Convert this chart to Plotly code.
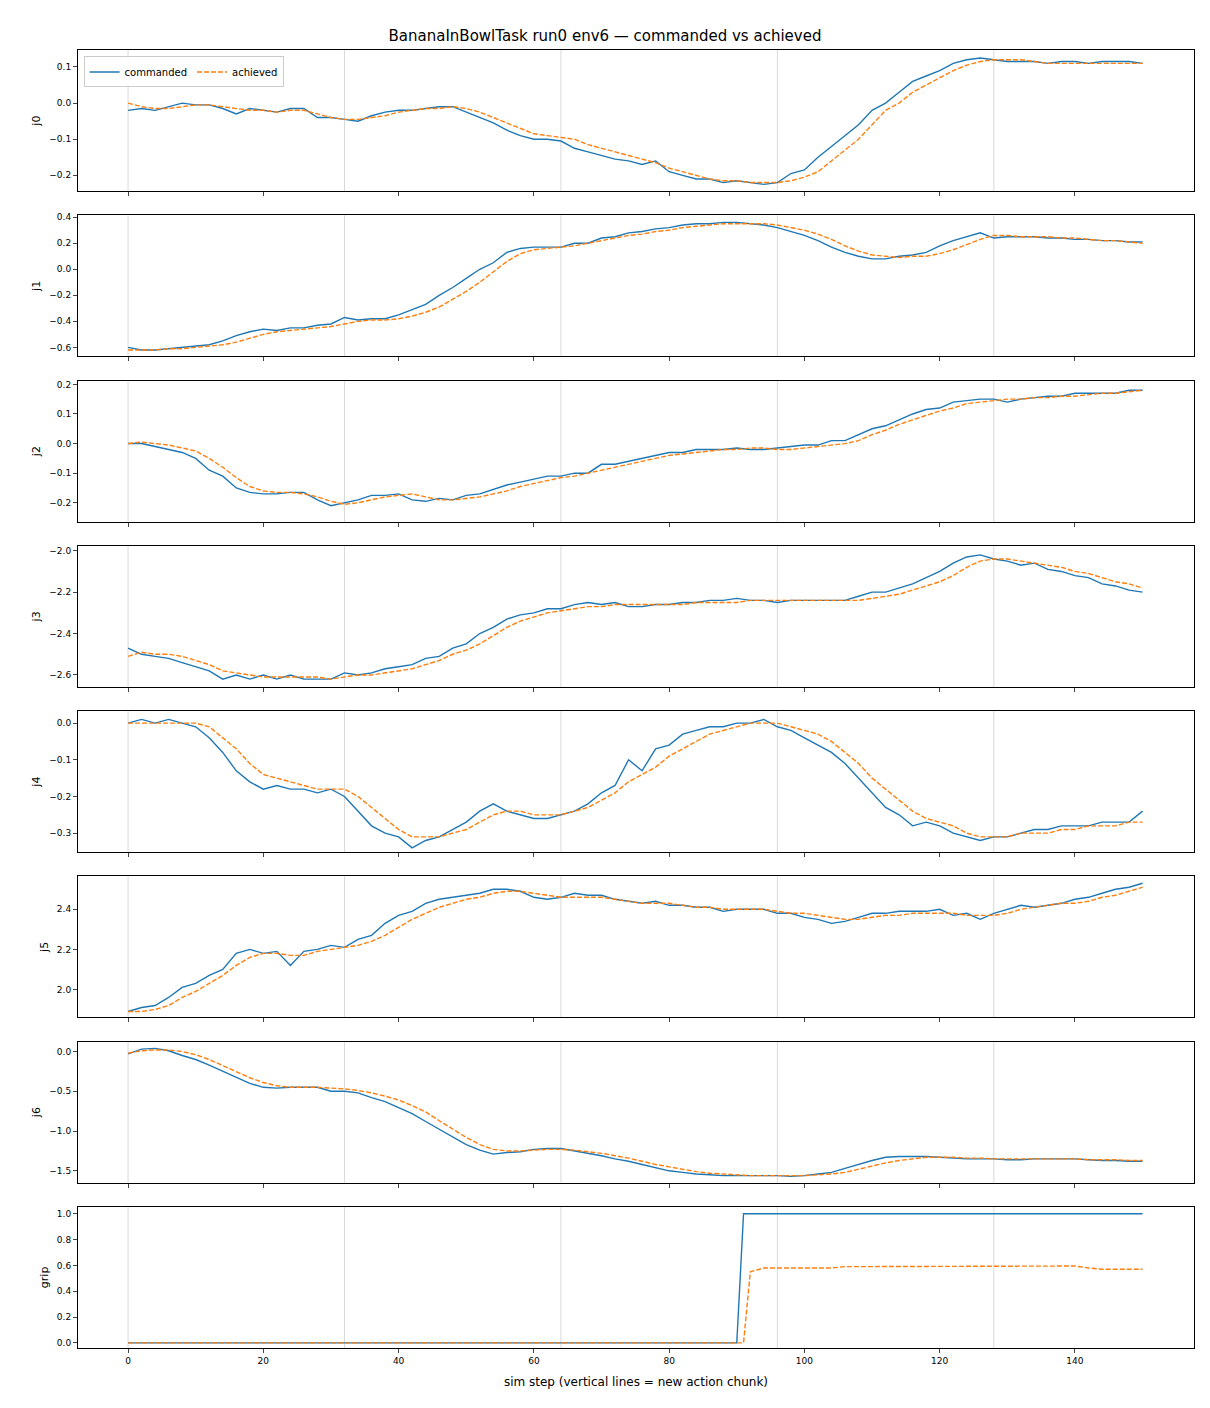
import plotly.graph_objects as go
from plotly.subplots import make_subplots

steps = list(range(0, 151, 2))

j0_cmd = [-0.02,-0.015,-0.02,-0.01,0.0,-0.005,-0.005,-0.015,-0.03,-0.015,-0.02,-0.025,-0.015,-0.015,-0.04,-0.04,-0.045,-0.05,-0.035,-0.025,-0.02,-0.02,-0.015,-0.01,-0.01,-0.025,-0.04,-0.055,-0.075,-0.09,-0.1,-0.1,-0.105,-0.125,-0.135,-0.145,-0.155,-0.16,-0.17,-0.16,-0.19,-0.2,-0.21,-0.21,-0.22,-0.215,-0.22,-0.225,-0.22,-0.195,-0.185,-0.15,-0.12,-0.09,-0.06,-0.02,0.0,0.03,0.06,0.075,0.09,0.11,0.12,0.125,0.12,0.115,0.115,0.115,0.11,0.115,0.115,0.11,0.115,0.115,0.115,0.11]
j0_ach = [0.0,-0.01,-0.015,-0.015,-0.01,-0.005,-0.005,-0.01,-0.015,-0.02,-0.02,-0.025,-0.02,-0.02,-0.03,-0.04,-0.045,-0.045,-0.04,-0.035,-0.025,-0.02,-0.015,-0.015,-0.01,-0.015,-0.025,-0.04,-0.055,-0.07,-0.085,-0.09,-0.095,-0.1,-0.115,-0.125,-0.135,-0.145,-0.155,-0.165,-0.18,-0.19,-0.2,-0.21,-0.215,-0.215,-0.22,-0.22,-0.22,-0.215,-0.205,-0.19,-0.16,-0.13,-0.1,-0.06,-0.02,0.0,0.03,0.05,0.07,0.09,0.105,0.115,0.12,0.12,0.12,0.115,0.11,0.11,0.11,0.11,0.11,0.11,0.11,0.11]
j1_cmd = [-0.6,-0.62,-0.62,-0.61,-0.6,-0.59,-0.58,-0.55,-0.51,-0.48,-0.46,-0.47,-0.45,-0.45,-0.43,-0.42,-0.37,-0.39,-0.38,-0.38,-0.35,-0.31,-0.27,-0.2,-0.14,-0.07,0.0,0.05,0.13,0.16,0.17,0.17,0.17,0.2,0.2,0.24,0.25,0.28,0.29,0.31,0.32,0.34,0.35,0.35,0.36,0.36,0.35,0.34,0.32,0.29,0.26,0.22,0.17,0.13,0.1,0.08,0.08,0.1,0.11,0.13,0.18,0.22,0.25,0.28,0.24,0.25,0.25,0.25,0.24,0.24,0.23,0.23,0.22,0.22,0.21,0.21]
j1_ach = [-0.62,-0.62,-0.62,-0.61,-0.61,-0.6,-0.59,-0.58,-0.56,-0.53,-0.5,-0.48,-0.47,-0.46,-0.45,-0.44,-0.42,-0.4,-0.39,-0.39,-0.38,-0.36,-0.33,-0.29,-0.23,-0.17,-0.1,-0.02,0.06,0.12,0.15,0.16,0.17,0.18,0.2,0.22,0.24,0.26,0.27,0.29,0.3,0.32,0.33,0.34,0.35,0.35,0.35,0.35,0.34,0.32,0.3,0.27,0.23,0.18,0.14,0.11,0.1,0.09,0.1,0.1,0.12,0.15,0.19,0.23,0.26,0.26,0.25,0.25,0.25,0.24,0.24,0.23,0.22,0.22,0.21,0.2]
j2_cmd = [0.0,0.0,-0.01,-0.02,-0.03,-0.05,-0.09,-0.11,-0.15,-0.165,-0.17,-0.17,-0.165,-0.165,-0.19,-0.21,-0.2,-0.19,-0.175,-0.175,-0.17,-0.19,-0.195,-0.185,-0.19,-0.175,-0.17,-0.155,-0.14,-0.13,-0.12,-0.11,-0.11,-0.1,-0.1,-0.07,-0.07,-0.06,-0.05,-0.04,-0.03,-0.03,-0.02,-0.02,-0.02,-0.015,-0.02,-0.02,-0.015,-0.01,-0.005,-0.005,0.01,0.01,0.03,0.05,0.06,0.08,0.1,0.115,0.12,0.14,0.145,0.15,0.15,0.14,0.15,0.155,0.16,0.16,0.17,0.17,0.17,0.17,0.18,0.18]
j2_ach = [0.0,0.005,0.0,-0.005,-0.015,-0.025,-0.05,-0.08,-0.115,-0.145,-0.16,-0.165,-0.165,-0.17,-0.18,-0.195,-0.205,-0.2,-0.19,-0.18,-0.175,-0.17,-0.18,-0.19,-0.19,-0.185,-0.18,-0.17,-0.16,-0.145,-0.135,-0.125,-0.115,-0.11,-0.1,-0.09,-0.08,-0.07,-0.06,-0.05,-0.04,-0.035,-0.03,-0.025,-0.02,-0.02,-0.015,-0.015,-0.02,-0.02,-0.015,-0.01,-0.005,0.0,0.01,0.03,0.045,0.065,0.08,0.095,0.11,0.12,0.135,0.14,0.145,0.15,0.15,0.155,0.155,0.16,0.16,0.165,0.17,0.17,0.175,0.18]
j3_cmd = [-2.47,-2.5,-2.51,-2.52,-2.54,-2.56,-2.58,-2.62,-2.6,-2.62,-2.6,-2.62,-2.6,-2.62,-2.62,-2.62,-2.59,-2.6,-2.59,-2.57,-2.56,-2.55,-2.52,-2.51,-2.47,-2.45,-2.4,-2.37,-2.33,-2.31,-2.3,-2.28,-2.28,-2.26,-2.25,-2.26,-2.25,-2.27,-2.27,-2.26,-2.26,-2.25,-2.25,-2.24,-2.24,-2.23,-2.24,-2.24,-2.25,-2.24,-2.24,-2.24,-2.24,-2.24,-2.22,-2.2,-2.2,-2.18,-2.16,-2.13,-2.1,-2.06,-2.03,-2.02,-2.04,-2.05,-2.07,-2.06,-2.09,-2.1,-2.12,-2.13,-2.16,-2.17,-2.19,-2.2]
j3_ach = [-2.51,-2.49,-2.5,-2.5,-2.51,-2.53,-2.55,-2.58,-2.59,-2.6,-2.61,-2.61,-2.61,-2.61,-2.61,-2.62,-2.61,-2.6,-2.6,-2.59,-2.58,-2.57,-2.55,-2.53,-2.5,-2.48,-2.45,-2.41,-2.37,-2.34,-2.32,-2.3,-2.29,-2.28,-2.27,-2.27,-2.26,-2.26,-2.26,-2.26,-2.26,-2.26,-2.25,-2.25,-2.25,-2.25,-2.24,-2.24,-2.24,-2.24,-2.24,-2.24,-2.24,-2.24,-2.24,-2.23,-2.22,-2.21,-2.19,-2.17,-2.15,-2.12,-2.08,-2.05,-2.04,-2.04,-2.05,-2.06,-2.07,-2.08,-2.1,-2.11,-2.13,-2.15,-2.16,-2.18]
j4_cmd = [0.0,0.01,0.0,0.01,0.0,-0.01,-0.04,-0.08,-0.13,-0.16,-0.18,-0.17,-0.18,-0.18,-0.19,-0.18,-0.2,-0.24,-0.28,-0.3,-0.31,-0.34,-0.32,-0.31,-0.29,-0.27,-0.24,-0.22,-0.24,-0.25,-0.26,-0.26,-0.25,-0.24,-0.22,-0.19,-0.17,-0.1,-0.13,-0.07,-0.06,-0.03,-0.02,-0.01,-0.01,0.0,0.0,0.01,-0.01,-0.02,-0.04,-0.06,-0.08,-0.11,-0.15,-0.19,-0.23,-0.25,-0.28,-0.27,-0.28,-0.3,-0.31,-0.32,-0.31,-0.31,-0.3,-0.29,-0.29,-0.28,-0.28,-0.28,-0.27,-0.27,-0.27,-0.24]
j4_ach = [0.0,0.0,0.0,0.0,0.0,0.0,-0.01,-0.04,-0.07,-0.11,-0.14,-0.15,-0.16,-0.17,-0.18,-0.18,-0.18,-0.2,-0.23,-0.26,-0.29,-0.31,-0.31,-0.31,-0.3,-0.29,-0.27,-0.25,-0.24,-0.24,-0.25,-0.25,-0.25,-0.24,-0.23,-0.21,-0.19,-0.16,-0.14,-0.12,-0.09,-0.07,-0.05,-0.03,-0.02,-0.01,0.0,0.0,0.0,-0.01,-0.02,-0.03,-0.05,-0.08,-0.11,-0.15,-0.18,-0.21,-0.24,-0.26,-0.27,-0.28,-0.3,-0.31,-0.31,-0.31,-0.3,-0.3,-0.3,-0.29,-0.29,-0.28,-0.28,-0.28,-0.27,-0.27]
j5_cmd = [1.89,1.91,1.92,1.96,2.01,2.03,2.07,2.1,2.18,2.2,2.18,2.19,2.12,2.19,2.2,2.22,2.21,2.25,2.27,2.33,2.37,2.39,2.43,2.45,2.46,2.47,2.48,2.5,2.5,2.49,2.46,2.45,2.46,2.48,2.47,2.47,2.45,2.44,2.43,2.44,2.42,2.42,2.41,2.41,2.39,2.4,2.4,2.4,2.38,2.38,2.36,2.35,2.33,2.34,2.36,2.38,2.38,2.39,2.39,2.39,2.4,2.37,2.38,2.35,2.38,2.4,2.42,2.41,2.42,2.43,2.45,2.46,2.48,2.5,2.51,2.53]
j5_ach = [1.89,1.89,1.9,1.92,1.96,1.99,2.03,2.07,2.12,2.16,2.18,2.18,2.17,2.17,2.19,2.2,2.21,2.22,2.24,2.27,2.31,2.35,2.38,2.41,2.43,2.45,2.46,2.48,2.49,2.49,2.48,2.47,2.46,2.46,2.46,2.46,2.45,2.44,2.43,2.43,2.43,2.42,2.41,2.41,2.4,2.4,2.4,2.4,2.39,2.38,2.38,2.37,2.36,2.35,2.35,2.36,2.37,2.37,2.38,2.38,2.38,2.38,2.37,2.37,2.37,2.38,2.4,2.41,2.42,2.43,2.43,2.44,2.46,2.47,2.49,2.51]
j6_cmd = [-0.03,0.03,0.04,0.01,-0.05,-0.1,-0.17,-0.25,-0.33,-0.4,-0.45,-0.46,-0.45,-0.45,-0.45,-0.5,-0.5,-0.52,-0.58,-0.63,-0.7,-0.78,-0.88,-0.98,-1.08,-1.17,-1.24,-1.29,-1.27,-1.26,-1.23,-1.22,-1.22,-1.25,-1.28,-1.31,-1.35,-1.38,-1.42,-1.46,-1.5,-1.52,-1.54,-1.55,-1.56,-1.56,-1.56,-1.56,-1.56,-1.57,-1.56,-1.54,-1.52,-1.47,-1.42,-1.37,-1.33,-1.32,-1.32,-1.32,-1.33,-1.34,-1.35,-1.35,-1.35,-1.36,-1.36,-1.35,-1.35,-1.35,-1.35,-1.36,-1.37,-1.37,-1.38,-1.38]
j6_ach = [-0.02,0.01,0.02,0.02,0.0,-0.04,-0.1,-0.18,-0.26,-0.33,-0.39,-0.43,-0.45,-0.45,-0.45,-0.46,-0.47,-0.49,-0.52,-0.56,-0.61,-0.68,-0.76,-0.87,-0.98,-1.08,-1.17,-1.23,-1.25,-1.25,-1.24,-1.23,-1.23,-1.24,-1.26,-1.28,-1.31,-1.34,-1.38,-1.42,-1.45,-1.48,-1.51,-1.53,-1.54,-1.55,-1.56,-1.56,-1.56,-1.56,-1.56,-1.55,-1.54,-1.52,-1.48,-1.44,-1.4,-1.37,-1.35,-1.33,-1.33,-1.33,-1.34,-1.34,-1.35,-1.35,-1.35,-1.35,-1.35,-1.35,-1.35,-1.36,-1.36,-1.36,-1.37,-1.37]

grip_cmd_x = [0, 90, 91, 150]
grip_cmd = [0, 0, 1, 1]
grip_ach_x = [0, 91, 92, 94, 100, 104, 106, 120, 128, 134, 140, 142, 144, 150]
grip_ach = [0, 0, 0.55, 0.58, 0.58, 0.58, 0.59, 0.59, 0.59, 0.595, 0.595, 0.58, 0.57, 0.57]

chunk_starts = [0, 32, 64, 96, 128]
labels = ["j0", "j1", "j2", "j3", "j4", "j5", "j6", "grip"]
ranges = [[-0.244, 0.147], [-0.67, 0.415], [-0.264, 0.213], [-2.658, -1.976],
          [-0.352, 0.033], [1.86, 2.565], [-1.65, 0.126], [-0.04, 1.054]]
tickvals = [[-0.2, -0.1, 0.0, 0.1], [-0.6, -0.4, -0.2, 0.0, 0.2, 0.4],
            [-0.2, -0.1, 0.0, 0.1, 0.2], [-2.6, -2.4, -2.2, -2.0],
            [-0.3, -0.2, -0.1, 0.0], [2.0, 2.2, 2.4], [-1.5, -1.0, -0.5, 0.0],
            [0.0, 0.2, 0.4, 0.6, 0.8, 1.0]]

series = [(steps, j0_cmd, steps, j0_ach), (steps, j1_cmd, steps, j1_ach),
          (steps, j2_cmd, steps, j2_ach), (steps, j3_cmd, steps, j3_ach),
          (steps, j4_cmd, steps, j4_ach), (steps, j5_cmd, steps, j5_ach),
          (steps, j6_cmd, steps, j6_ach), (grip_cmd_x, grip_cmd, grip_ach_x, grip_ach)]

fig = make_subplots(rows=8, cols=1, shared_xaxes=True, vertical_spacing=0.0185)
BLUE, ORANGE = "#1f77b4", "#ff7f0e"
for i, (xc, yc, xa, ya) in enumerate(series):
    r = i + 1
    fig.add_trace(go.Scatter(x=xc, y=yc, mode="lines", name="commanded",
                             line=dict(color=BLUE, width=1.4), showlegend=(i == 0)), row=r, col=1)
    fig.add_trace(go.Scatter(x=xa, y=ya, mode="lines", name="achieved",
                             line=dict(color=ORANGE, width=1.4, dash="5px,2px"), showlegend=(i == 0)), row=r, col=1)
    for c in chunk_starts:
        fig.add_shape(type="line", x0=c, x1=c, y0=0, y1=1, xref=f"x{'' if r == 1 else r}",
                      yref=f"y{'' if r == 1 else r} domain", line=dict(color="rgba(128,128,128,0.3)", width=1),
                      layer="below")
    fig.update_yaxes(row=r, col=1, range=ranges[i], tickvals=tickvals[i], tickformat=".1f",
                     title=dict(text=labels[i], font=dict(size=11), standoff=6),
                     showgrid=False, zeroline=False, showline=True, mirror=True,
                     linecolor="black", ticks="outside", ticklen=4, tickfont=dict(size=9))
    fig.update_xaxes(row=r, col=1, range=[-7.4, 157.6], tickvals=[0, 20, 40, 60, 80, 100, 120, 140],
                     showgrid=False, zeroline=False, showline=True, mirror=True,
                     linecolor="black", ticks="outside", ticklen=4, tickfont=dict(size=9))
fig.update_xaxes(row=8, col=1, title=dict(text="sim step (vertical lines = new action chunk)", font=dict(size=12), standoff=12))

fig.update_layout(
    width=1194, height=1392, plot_bgcolor="white", paper_bgcolor="white",
    margin=dict(l=70, r=8, t=42, b=52),
    font=dict(family="DejaVu Sans", color="black"),
    title=dict(text="BananaInBowlTask run0 env6 — commanded vs achieved", x=0.5, xanchor="center",
               y=1 - 28 / 1392, yanchor="middle", font=dict(size=15)),
    legend=dict(x=0.005, y=0.995, xanchor="left", yanchor="top", orientation="h",
                bordercolor="#cccccc", borderwidth=1, bgcolor="rgba(255,255,255,0.8)", font=dict(size=10)),
)
fig.write_html("out.html")
